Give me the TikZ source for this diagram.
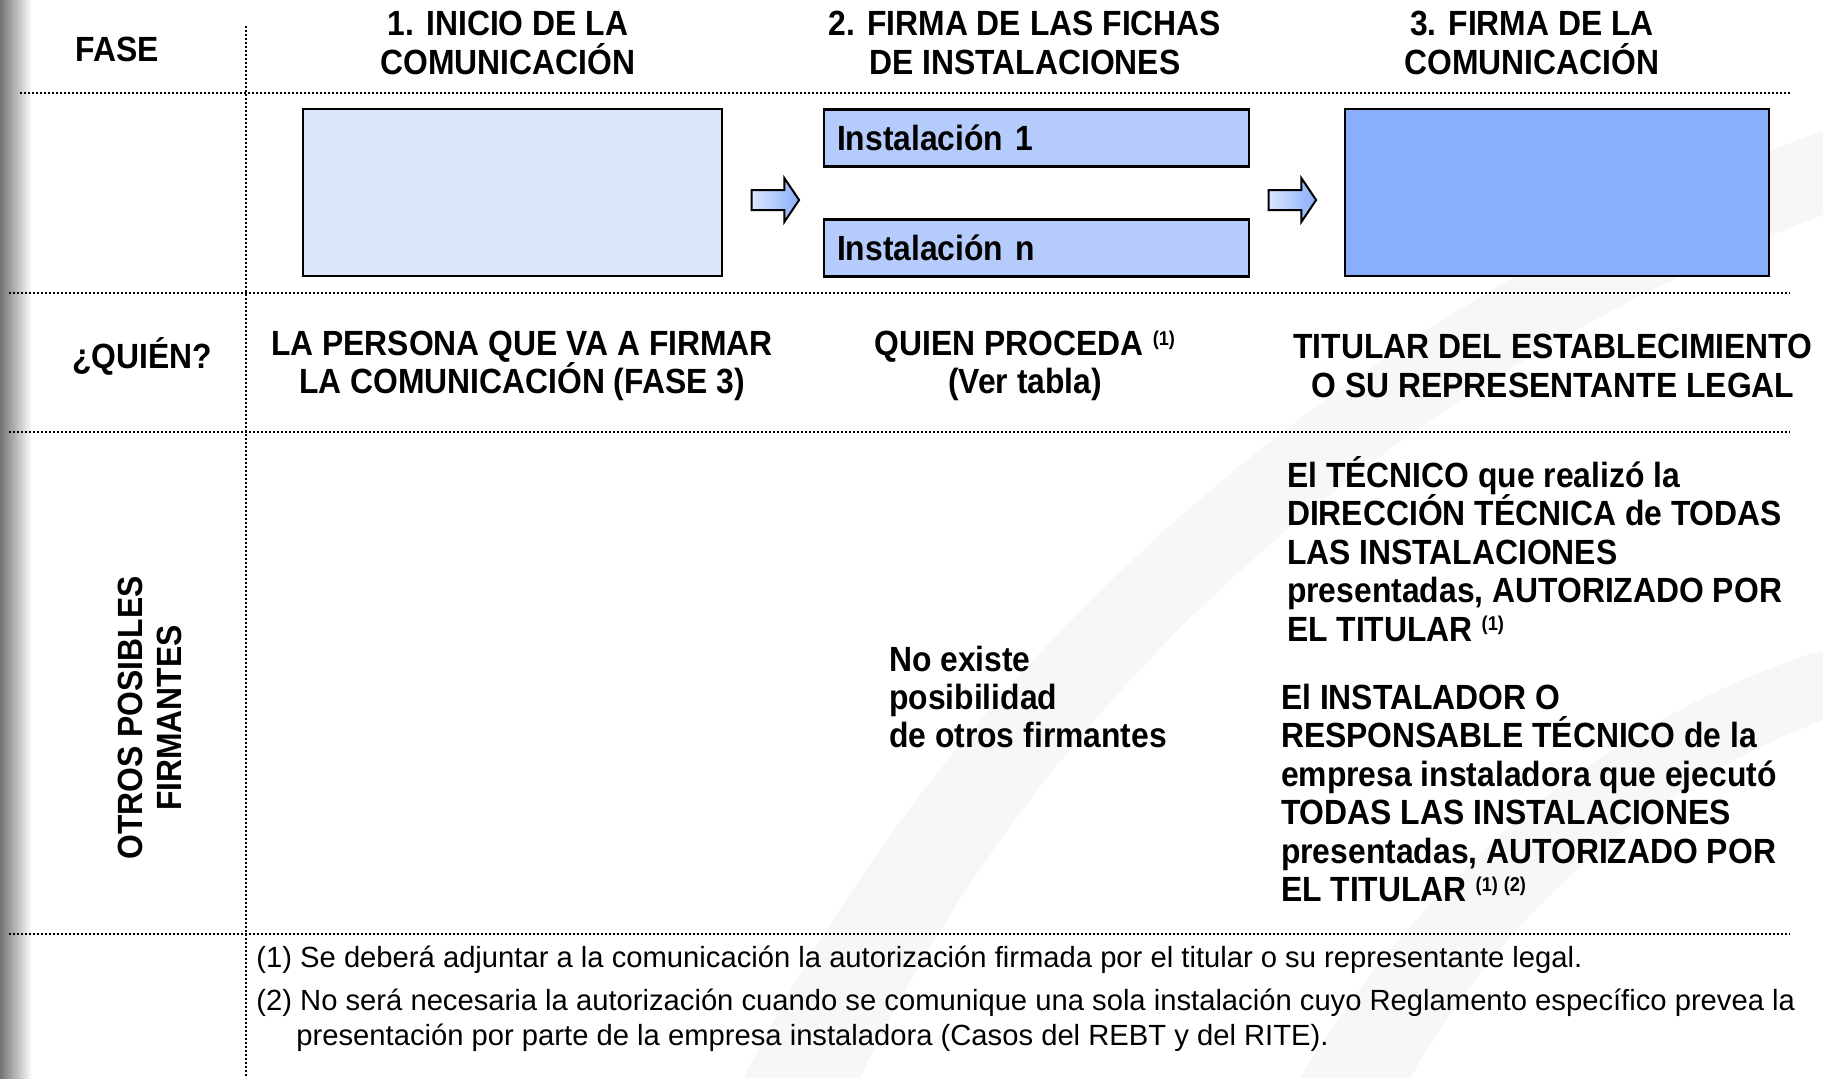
\documentclass[tikz,border=0pt]{standalone}
\usepackage{fontspec}
\setmainfont{Liberation Sans}
\newfontfamily\cuerpo[FakeStretch=0.91]{Liberation Sans}
\usetikzlibrary{shapes.arrows,positioning}
\definecolor{faseuno}{RGB}{220,230,253}
\definecolor{fasedos}{RGB}{180,203,251}
\definecolor{fasetres}{RGB}{136,174,252}
\definecolor{fondo}{RGB}{247,247,247}
\newcommand{\nota}[1]{\raisebox{0.55ex}{\fontsize{10}{10}\selectfont(#1)}}

\begin{document}
\begin{tikzpicture}[x=0.5pt,y=-0.5pt,
      hdr/.style={font=\cuerpo\bfseries\fontsize{17.5}{19.2}\selectfont,align=center},
      txt/.style={font=\cuerpo\bfseries\fontsize{17.5}{19.2}\selectfont,align=left,anchor=west},
      pie/.style={font=\fontsize{14.6}{17.5}\selectfont,anchor=west,inner sep=0pt},
      fase/.style={draw,line width=1.1pt,minimum width=#1,minimum height=83.5pt,inner sep=0pt},
      inst/.style={draw,line width=1.1pt,fill=fasedos,minimum width=212.5pt,minimum height=28.5pt,
                   font=\cuerpo\bfseries\fontsize{17.5}{19.2}\selectfont,align=left,
                   text width=199.5pt,inner xsep=6.5pt,inner ysep=0pt},
      flecha/.style={single arrow,draw,line width=1pt,left color=faseuno,right color=fasetres,
                     minimum width=21pt,minimum height=23.75pt,single arrow head extend=6pt,
                     single arrow tip angle=112,inner xsep=0pt,inner ysep=4.5pt},
      sep/.style={line width=0.8pt,dash pattern=on 0.8pt off 1.2pt}]
    % fondo
    \fill[white] (0,0) rectangle (1823,1078);
    \useasboundingbox (0,0) rectangle (1823,1078);
    \shade[left color=black!55,right color=white] (0,0) rectangle (32,1078);
    \fill[fondo] (744,1078) .. controls (930,700) and (1300,330) .. (1823,130)
      -- (1823,215) .. controls (1340,400) and (1020,740) .. (860,1078) -- cycle;
    \fill[fondo] (1300,1078) .. controls (1420,880) and (1600,720) .. (1823,650)
      -- (1823,720) .. controls (1640,790) and (1500,920) .. (1410,1078) -- cycle;
    % rejilla
    \draw[sep] (246,26) -- (246,1078);
    \draw[sep] (20,93) -- (1790,93);
    \draw[sep] (9,293) -- (1790,293);
    \draw[sep] (9,432) -- (1790,432);
    \draw[sep] (9,934) -- (1790,934);
    % cabecera
    \node[hdr] (fase)  at (117,49)   {FASE};
    \node[hdr] (col1)  at (508,43)   {1. INICIO DE LA\\COMUNICACIÓN};
    \node[hdr] (col2)  at (1025,43)  {2. FIRMA DE LAS FICHAS\\DE INSTALACIONES};
    \node[hdr] (col3)  at (1532,43)  {3. FIRMA DE LA\\COMUNICACIÓN};
    % fases
    \node[fase=209.5pt,fill=faseuno]  (inicio) at (512.5,192.5) {};
    \node[inst] (inst1) at (1036.5,138) {Instalación 1};
    \node[inst] (instn) at (1036.5,248) {Instalación n};
    \node[fase=212pt,fill=fasetres]   (firma)  at (1557,192.5) {};
    \node[flecha] (fl1) at (772,200)  {};
    \node[flecha] (fl2) at (1289,200) {};
    % quien
    \node[hdr] (quien) at (142,356)  {¿QUIÉN?};
    \node[hdr] (q1)    at (522,366)  {LA PERSONA QUE VA A FIRMAR\\LA COMUNICACIÓN (FASE 3)};
    \node[hdr] (q2)    at (1025,366) {QUIEN PROCEDA \nota{1}\\(Ver tabla)};
    \node[hdr] (q3)    at (1553,366) {TITULAR DEL ESTABLECIMIENTO\\O SU REPRESENTANTE LEGAL};
    % otros firmantes
    \node[hdr,rotate=90] (otros) at (150,718) {OTROS POSIBLES\\FIRMANTES};
    \node[txt] (nadie) at (882,697) {No existe\\posibilidad\\de otros firmantes};
    \node[txt] (tecn)  at (1280,549) {El TÉCNICO que realizó la\\DIRECCIÓN TÉCNICA de TODAS\\LAS INSTALACIONES\\presentadas, AUTORIZADO POR\\EL TITULAR \nota{1}};
    \node[txt] (insta) at (1274,793) {El INSTALADOR O\\RESPONSABLE TÉCNICO de la\\empresa instaladora que ejecutó\\TODAS LAS INSTALACIONES\\presentadas, AUTORIZADO POR\\EL TITULAR \nota{1}\,\nota{2}};
    % notas
    \node[pie] (n1)  at (256,960)  {(1) Se deberá adjuntar a la comunicación la autorización firmada por el titular o su representante legal.};
    \node[pie] (n2)  at (256,1003) {(2) No será necesaria la autorización cuando se comunique una sola instalación cuyo Reglamento específico prevea la};
    \node[pie] (n2b) at (296,1038) {presentación por parte de la empresa instaladora (Casos del REBT y del RITE).};
  \end{tikzpicture}
\end{document}
